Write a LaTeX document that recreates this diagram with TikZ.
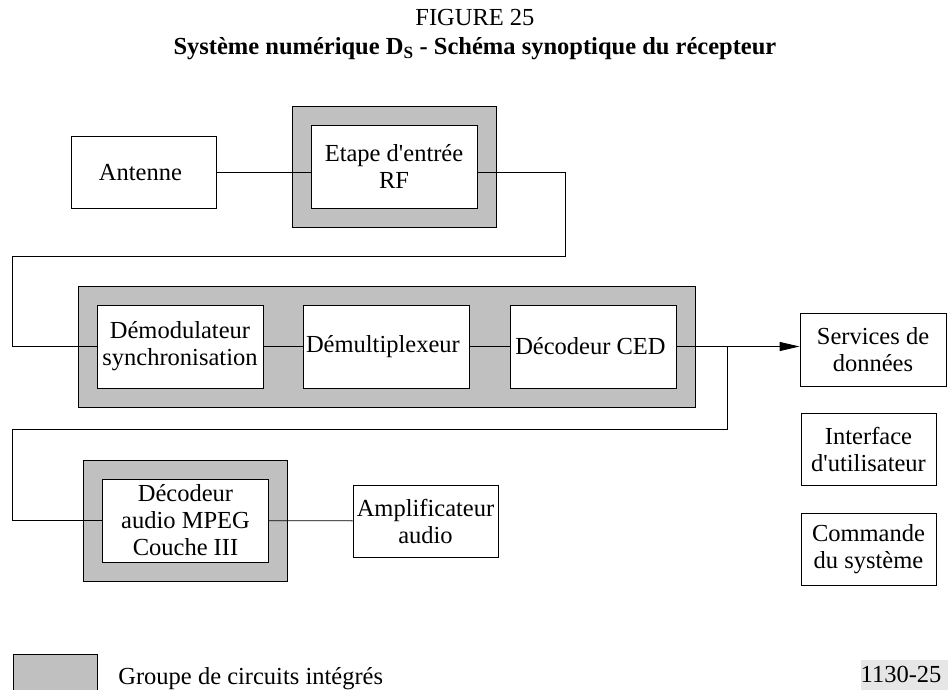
\documentclass[tikz,border=0pt]{standalone}
\usepackage{fontspec}
\setmainfont{Liberation Serif}
\usetikzlibrary{fit,backgrounds,arrows.meta}
\definecolor{icgray}{RGB}{192,192,192}
\definecolor{tagbg}{RGB}{230,230,230}
\begin{document}
\begin{tikzpicture}[x=1pt,y=-1pt,line width=0.8pt,
  every path/.style={>={Triangle[length=20pt,width=9pt]}},
  every node/.style={font=\fontsize{24.5}{27}\selectfont,align=center,inner sep=0pt},
  blk/.style={draw,rectangle,fill=white,minimum width=166pt,minimum height=83pt},
  sml/.style={draw,rectangle,fill=white,minimum width=145pt,minimum height=72pt},
  grp/.style={draw,rectangle,fill=icgray,inner sep=18.5pt}]
\useasboundingbox (0,0) rectangle (948,690);
\node[anchor=base] (title)    at (478,26)  { FIGURE 25 };
\node[anchor=base] (subtitle) at (478,55)  { \bfseries Système numérique D\textsubscript{S} - Schéma synoptique du récepteur };
\node[sml] (ant) at (143.5,172.5) { Antenne };
\node[blk] (rf)  at (394,166.5)   { Etape d\textquotesingle entrée\\RF };
\node[blk] (dem) at (180,346.5)   { Démodulateur\\synchronisation };
\node[blk] (dmx) at (386,346.5)   { Démultiplexeur };
\node[blk] (ced) at (593.5,346.5) { Décodeur CED };
\node[blk] (mpg) at (185.5,520.5) { Décodeur\\audio MPEG\\Couche III };
\node[sml] (amp) at (425.5,521)   { Amplificateur\\audio };
\node[sml,minimum width=146pt,minimum height=73pt] (svc) at (873,349.5) { Services de\\données };
\node[sml,minimum width=135pt] (ui)  at (868.5,449) { Interface\\d\textquotesingle utilisateur };
\node[sml,minimum width=135pt] (cmd) at (868.5,549) { Commande\\du système };
% groupes de circuits
\begin{scope}[on background layer]
\node[grp,fit=(rf)]       (rfgrp)  {};
\node[grp,fit=(dem)(ced)] (demgrp) {};
\node[grp,fit=(mpg)]      (mpggrp) {};
\end{scope}
% legende
\node[draw,fill=icgray,minimum width=84pt,minimum height=42pt] (key) at (55,675) {};
\node[anchor=base west] (keytxt) at (118,684) { Groupe de circuits intégrés };
\node[fill=tagbg,anchor=south east,minimum width=80pt,minimum height=30pt] (tag) at (948,690) { 1130-25 };
% liaisons
\coordinate (c1) at (565,256);
\coordinate (c2) at (12,346.5);
\coordinate (br) at (727,429);
\coordinate (c3) at (12,520.5);
\draw      (ant.east) -- (ant.east -| rf.west);
\draw      (rf.east |- ant.east) -| (c1) -| (c2) -- (dem.west);
\draw      (dem) -- (dmx);
\draw      (dmx) -- (ced);
\draw[->]  (ced.east) -- (ced.east -| svc.west);
\draw      (ced.east -| br) -- (br) -| (c3) -- (mpg.west);
\draw      (mpg) -- (amp);
\end{tikzpicture}
\end{document}
